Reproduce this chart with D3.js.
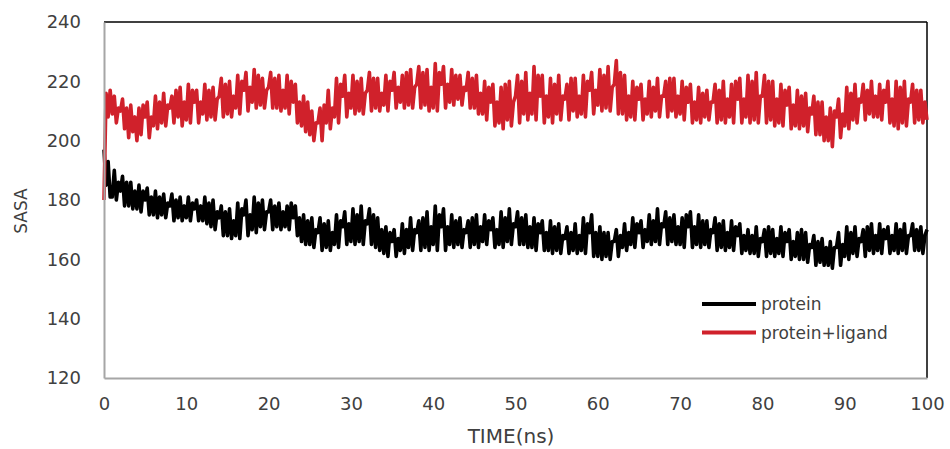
<!DOCTYPE html>
<html>
<head>
<meta charset="utf-8">
<script src="https://cdn.jsdelivr.net/npm/d3@7"></script>
<style>
  body { margin: 0; background: #fff; }
  text { font-family: "DejaVu Sans", sans-serif; fill: #404040; }
</style>
</head>
<body>
<div id="chart"></div>
<script>
const timeStep = 0.25;
const protein = [
  197,185,193,181, 181,190,180,186, 183,188,178,186, 178,186,177,183, 177,185,176,183,
  180,184,175,181, 175,183,174,181, 175,182,174,179, 178,182,173,180, 174,181,173,178,
  174,181,173,179, 177,180,173,178, 173,181,172,179, 171,180,170,176, 174,178,168,176,
  168,177,167,173, 168,179,167,177, 175,180,168,175, 170,181,169,179, 171,180,170,176,
  176,180,170,178, 171,179,170,176, 171,178,170,179, 174,178,168,174, 166,175,165,173,
  165,174,164,170, 169,174,163,172, 164,173,163,169, 165,175,164,173, 171,176,165,172,
  166,177,165,175, 166,178,165,173, 172,177,165,175, 164,174,163,170, 162,171,161,169,
  166,170,161,167, 163,172,162,170, 164,174,163,170, 169,173,163,174, 164,176,163,171,
  165,178,163,175, 171,177,163,171, 165,175,164,173, 165,174,164,170, 169,173,164,174,
  165,175,164,171, 166,175,165,173, 170,174,164,170, 165,176,164,174, 166,177,165,172,
  171,176,165,174, 165,175,164,171, 164,174,163,172, 169,173,163,169, 163,173,162,171,
  163,172,162,168, 167,171,162,169, 163,172,162,168, 163,174,162,172, 169,175,161,169,
  161,171,160,169, 161,169,160,166, 166,170,161,168, 164,172,163,169, 165,174,164,172,
  169,173,164,170, 166,175,165,173, 166,177,165,172, 171,176,165,174, 166,175,165,171,
  165,174,164,175, 171,176,164,171, 165,175,164,173, 165,173,164,170, 169,174,163,172,
  164,173,163,169, 164,173,163,171, 168,172,162,168, 163,170,162,168, 162,171,161,167,
  166,170,161,171, 162,170,161,167, 162,171,161,169, 166,170,160,166, 161,169,160,170,
  160,169,159,165, 164,168,158,166, 159,167,158,164, 158,166,157,164, 164,169,158,165,
  161,171,160,169, 162,171,161,167, 166,170,161,171, 163,172,162,168, 163,172,162,170,
  167,171,162,168, 163,172,162,170, 163,172,162,168, 168,172,163,170, 163,171,162,168,
  170
];
const proteinLigand = [
  180,216,208,217, 209,215,206,211, 210,214,204,211, 201,212,203,208, 200,211,202,212,
  208,213,201,208, 205,215,204,213, 206,216,205,212, 211,215,206,217, 208,218,205,213,
  207,219,206,217, 213,217,206,213, 209,219,207,217, 208,218,207,214, 215,221,208,219,
  209,220,208,215, 211,222,209,220, 217,223,210,218, 213,224,211,222, 212,221,211,217,
  218,223,211,221, 211,222,210,217, 211,222,209,220, 213,219,206,213, 205,215,203,213,
  202,210,200,206, 206,211,200,212, 206,217,204,211, 208,221,206,219, 215,222,208,216,
  211,222,209,220, 210,221,209,216, 217,223,210,221, 211,221,210,216, 212,222,210,220,
  217,223,211,218, 213,222,211,223, 212,224,211,218, 219,225,211,223, 212,224,210,218,
  211,226,210,223, 219,225,211,219, 213,224,212,222, 214,222,212,218, 217,223,211,221,
  211,222,209,216, 209,220,207,218, 213,219,205,213, 206,218,204,219, 207,220,205,213,
  215,222,206,220, 209,223,207,216, 209,225,207,222, 215,222,206,215, 208,221,206,219,
  209,222,207,215, 214,219,207,221, 210,221,208,215, 209,222,208,220, 217,223,209,217,
  212,224,210,222, 211,225,210,218, 219,227,209,223, 209,222,207,215, 208,220,207,218,
  214,219,207,214, 209,220,208,218, 210,221,208,215, 215,220,208,221, 210,221,208,215,
  209,220,207,218, 213,219,206,213, 207,218,206,216, 208,217,207,213, 213,219,206,217,
  207,220,206,214, 208,219,206,220, 214,221,206,214, 208,222,206,220, 207,223,206,215,
  215,222,206,220, 207,220,205,214, 206,219,205,217, 212,218,204,212, 205,217,204,215,
  205,216,203,211, 209,215,202,213, 202,213,200,208, 200,211,198,210, 208,214,201,209,
  205,218,204,216, 207,219,206,214, 213,219,207,217, 209,220,208,215, 208,219,207,217,
  213,220,206,214, 205,220,204,218, 206,220,205,214, 213,219,206,217, 207,217,206,213,
  207
];
const series = [
  { name: "protein", values: protein, color: "#000000" },
  { name: "protein+ligand", values: proteinLigand, color: "#d0212b" }
];
const xTicks = [0, 10, 20, 30, 40, 50, 60, 70, 80, 90, 100];
const yTicks = [120, 140, 160, 180, 200, 220, 240];

const W = 950, H = 449;
const margin = { top: 22, right: 23, bottom: 71, left: 104 },
      width = W - margin.left - margin.right,
      height = H - margin.top - margin.bottom;

const svg = d3.select("#chart").append("svg")
    .attr("width", W)
    .attr("height", H);

const g = svg.append("g")
    .attr("transform", `translate(${margin.left},${margin.top})`);

const x = d3.scaleLinear().domain([0, 100]).range([0, width]);
const y = d3.scaleLinear().domain([120, 240]).range([height, 0]);

// frame: top and right in black, left and bottom axis in gray
g.append("line").attr("x1", 0).attr("x2", width).attr("y1", 0).attr("y2", 0)
  .attr("stroke", "#000").attr("stroke-width", 1.5);
g.append("line").attr("x1", width).attr("x2", width).attr("y1", 0).attr("y2", height)
  .attr("stroke", "#000").attr("stroke-width", 1.5);

const line = d3.line()
  .x((d, i) => x(i * timeStep))
  .y(d => y(d));

series.forEach(s => {
  g.append("path")
    .datum(s.values)
    .attr("fill", "none")
    .attr("stroke", s.color)
    .attr("stroke-width", 3.6)
    .attr("stroke-linejoin", "round")
    .attr("d", line);
});

const yAxis = g.append("g")
  .call(d3.axisLeft(y).tickValues(yTicks).tickSize(0).tickPadding(23));
const xAxis = g.append("g")
  .attr("transform", `translate(0,${height})`)
  .call(d3.axisBottom(x).tickValues(xTicks).tickSize(0).tickPadding(19));

[yAxis, xAxis].forEach(a => {
  a.select(".domain").attr("stroke", "#a6a6a6").attr("stroke-width", 2);
  a.selectAll("text").style("font-size", "18px").attr("fill", "#404040")
    .style("font-family", "'DejaVu Sans', sans-serif");
});

svg.append("text")
  .attr("x", 511).attr("y", 443)
  .attr("text-anchor", "middle")
  .style("font-size", "20px")
  .text("TIME(ns)");

svg.append("text")
  .attr("transform", "translate(27,211) rotate(-90)")
  .attr("text-anchor", "middle")
  .style("font-size", "17px")
  .text("SASA");

// legend
const legend = svg.append("g").attr("transform", "translate(702,304)");
series.forEach((s, i) => {
  legend.append("line")
    .attr("x1", 0).attr("x2", 54)
    .attr("y1", i * 28.5).attr("y2", i * 28.5)
    .attr("stroke", s.color).attr("stroke-width", 4);
  legend.append("text")
    .attr("x", 59).attr("y", i * 28.5 + 6)
    .style("font-size", "17px")
    .attr("fill", "#262626")
    .text(s.name);
});
</script>
</body>
</html>
